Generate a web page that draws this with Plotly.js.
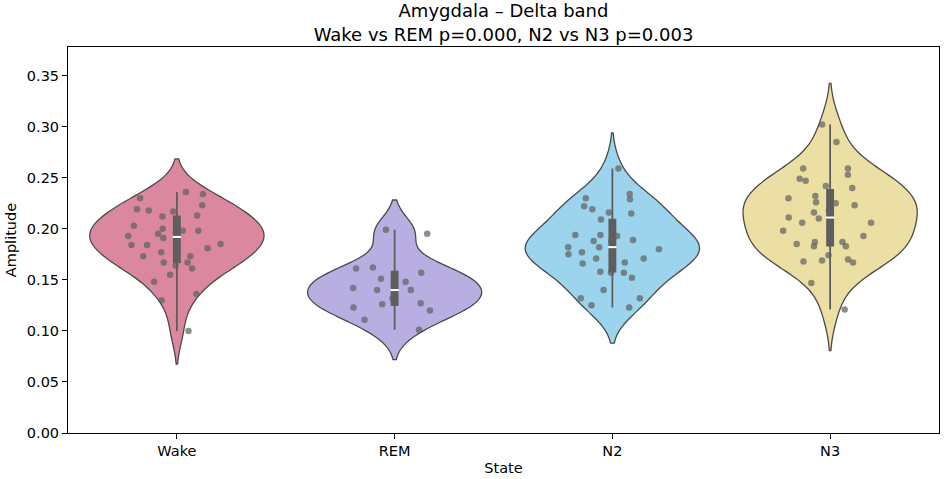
<!DOCTYPE html>
<html>
<head>
<meta charset="utf-8">
<script src="https://cdn.plot.ly/plotly-3.0.1.min.js"></script>
<style>
  body { margin: 0; background: #fff; }
  #myDiv { width: 944px; height: 479px; }
</style>
</head>
<body>
<div id="myDiv"></div>
<script>
//---------------------- DATA ---------------------------
var states = ['Wake', 'REM', 'N2', 'N3'];
var colors = ['#db889f', '#b9aee2', '#9bd4ec', '#ecdfa3'];

var wake = [0.230, 0.236, 0.234, 0.223, 0.217, 0.213, 0.218, 0.219, 0.212, 0.206,
            0.203, 0.198, 0.200, 0.198, 0.195, 0.196, 0.193, 0.191, 0.185, 0.184,
            0.184, 0.181, 0.177, 0.173, 0.173, 0.167, 0.167, 0.164, 0.161, 0.155,
            0.148, 0.136, 0.130, 0.100];
var rem = [0.195, 0.199, 0.162, 0.157, 0.161, 0.151, 0.148, 0.142, 0.140, 0.140,
           0.132, 0.127, 0.126, 0.123, 0.120, 0.111, 0.101];
var n2 = [0.259, 0.234, 0.230, 0.229, 0.222, 0.219, 0.216, 0.215, 0.209, 0.199,
          0.194, 0.194, 0.193, 0.188, 0.189, 0.188, 0.182, 0.182, 0.180, 0.177,
          0.175, 0.171, 0.171, 0.167, 0.166, 0.157, 0.157, 0.158, 0.152, 0.140,
          0.132, 0.132, 0.125, 0.123];
var n3 = [0.302, 0.285, 0.259, 0.259, 0.253, 0.249, 0.247, 0.240, 0.242, 0.232,
          0.230, 0.230, 0.225, 0.226, 0.223, 0.218, 0.216, 0.211, 0.210, 0.206,
          0.206, 0.198, 0.193, 0.187, 0.187, 0.185, 0.183, 0.183, 0.174, 0.167,
          0.168, 0.169, 0.170, 0.147, 0.121];

var yTicks = [0.00, 0.05, 0.10, 0.15, 0.20, 0.25, 0.30, 0.35];

//---------------------- HELPERS ---------------------------
function median(arr){
    var s = arr.slice().sort(function(a, b){ return a - b; });
    var m = Math.floor(s.length / 2);
    return s.length % 2 ? s[m] : (s[m - 1] + s[m]) / 2;
}

//---------------------- VIOLIN CHART ---------------------------
var groups = [wake, rem, n2, n3];
var data = [];

groups.forEach(function(vals, i){
    data.push({
        type: 'violin',
        x: vals.map(function(){ return states[i]; }),
        y: vals,
        name: states[i],
        width: 0.8,
        fillcolor: colors[i],
        line: {color: '#4a4a4a', width: 1.3},
        points: 'all',
        pointpos: 0,
        jitter: 0.65,
        marker: {color: 'rgba(95,95,95,0.7)', size: 6.5, line: {width: 0}},
        box: {
            visible: true,
            width: 0.035,
            fillcolor: '#5e5e5e',
            line: {color: '#5e5e5e', width: 1.8}
        },
        meanline: {visible: false},
        hoverinfo: 'y'
    });
});

// white median markers
data.push({
    type: 'scatter',
    mode: 'markers',
    x: states,
    y: groups.map(median),
    marker: {symbol: 'line-ew', size: 6, line: {color: 'white', width: 2}},
    hoverinfo: 'skip'
});

var layout = {
    width: 944,
    height: 479,
    margin: {l: 68, r: 5, t: 47, b: 46},
    paper_bgcolor: 'white',
    plot_bgcolor: 'white',
    showlegend: false,
    font: {family: 'DejaVu Sans, sans-serif', size: 14.5, color: 'black'},
    title: {
        text: 'Amygdala – Delta band<br>Wake vs REM p=0.000, N2 vs N3 p=0.003',
        font: {size: 18, color: 'black'},
        x: 0.5,
        xref: 'paper',
        y: 0.964,
        yanchor: 'top'
    },
    xaxis: {
        type: 'category',
        categoryorder: 'array',
        categoryarray: states,
        range: [-0.5, 3.5],
        showline: true,
        mirror: true,
        linecolor: 'black',
        linewidth: 1,
        ticks: 'outside',
        ticklen: 5,
        tickcolor: 'black',
        showgrid: false,
        zeroline: false,
        tickfont: {size: 14.5},
        title: {text: 'State', font: {size: 14.5}, standoff: 4}
    },
    yaxis: {
        range: [0, 0.378],
        tickvals: yTicks,
        tickformat: '.2f',
        showline: true,
        mirror: true,
        linecolor: 'black',
        linewidth: 1,
        ticks: 'outside',
        ticklen: 5,
        tickcolor: 'black',
        showgrid: false,
        zeroline: false,
        tickfont: {size: 14.5},
        title: {text: 'Amplitude', font: {size: 14.5}, standoff: 6}
    }
};

Plotly.newPlot('myDiv', data, layout, {displayModeBar: false, staticPlot: true});
</script>
</body>
</html>
